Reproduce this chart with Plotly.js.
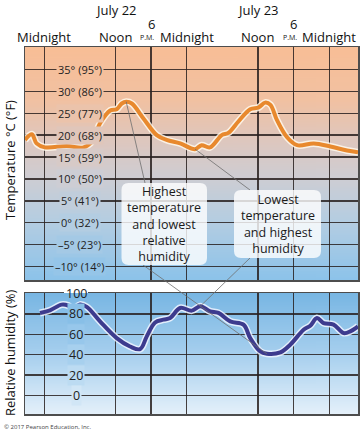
<!DOCTYPE html>
<html><head><meta charset="utf-8">
<script src="https://cdn.plot.ly/plotly-3.0.1.min.js"></script>
<style>html,body{margin:0;padding:0;background:#fff}</style>
</head><body><div id="chart" style="width:363px;height:432px"></div>
<script>
// ---- data (hours from midnight July 22) ----
const tempHours = [-3.25, -2.1, -1.3, 0.1, 3.8, 6.6, 8.0, 9.4, 11.1, 12.2, 13.05, 13.8, 14.75, 16.7, 18.95, 20.6, 22.9, 25.4, 26.5, 27.9, 29.9, 31.0, 32.7, 34.7, 36.1, 37.2, 38.1, 39.2, 40.9, 42.6, 45.4, 48.2, 51.0, 52.85];
const tempC = [18.9, 20.2, 18.1, 17.2, 17.5, 17.2, 18.5, 22.7, 25.6, 25.9, 27.2, 27.6, 27.2, 23.8, 20.0, 18.9, 18.1, 16.8, 17.7, 17.2, 20.0, 20.5, 23.1, 25.9, 26.3, 27.4, 26.9, 23.4, 19.5, 17.7, 18.1, 17.4, 16.5, 16.1];
const humHours = [-0.73, 0.96, 2.93, 4.05, 4.89, 6.02, 7.15, 9.39, 12.2, 14.45, 16.14, 17.27, 18.67, 20.07, 21.2, 22.88, 24.86, 26.26, 27.94, 29.34, 31.32, 33.56, 34.69, 36.38, 37.5, 39.75, 41.43, 43.68, 44.81, 45.94, 47.05, 48.74, 50.42, 51.55, 52.85];
const humidity = [81, 83.6, 89.2, 88.2, 84.9, 89.2, 86.9, 72.7, 56.3, 48.1, 45.5, 58, 71.7, 74.4, 76, 85.9, 83.3, 87.5, 82.6, 81, 72.7, 69.5, 56.3, 43.2, 40.9, 42.2, 49.8, 64.5, 68.5, 76, 71.1, 69.5, 61.3, 62.9, 67.8];

const tempTickVals = [35, 30, 25, 20, 15, 10, 5, 0, -5, -10];
const tempTickText = ['35° (95°)', '30° (86°)', '25° (77°)', '20° (68°)', '15° (59°)', '10° (50°)', '5° (41°)', '0° (32°)', '–5° (23°)', '–10° (14°)'];
const humTickVals = [100, 80, 60, 40, 20, 0];
const humTickText = ['100', '80', '60', '40', '20', '0'];
const hourGrid = [0, 12, 18, 24, 36, 42, 48];
const headerHours = [0, 12, 24, 36, 48];
const headerLabels = ['Midnight', 'Noon', 'Midnight', 'Noon', 'Midnight'];
const pmHours = [18, 42];
const dateHours = [12, 36];
const dateLabels = ['July 22', 'July 23'];
const callout1 = 'Highest<br>temperature<br>and lowest<br>relative<br>humidity';
const callout2 = 'Lowest<br>temperature<br>and highest<br>humidity';

// ---- layout geometry ----
const W = 363, H = 432, ML = 25, MR = 5, MT = 47, MB = 18;
const PW = W - ML - MR, PH = H - MT - MB;
const xr = [-3.25, 52.85];
const topDom = [0.3651, 1], botDom = [0, 0.3297];
const tRange = [-13.03, 40.08], hRange = [-18.2, 100.6];
const FONT = '"Open Sans", "Noto Sans", sans-serif';

const pxX = h => ML + (h - xr[0]) / (xr[1] - xr[0]) * PW;
const paperX = px => (px - ML) / PW;
const paperY = py => (H - MB - py) / PH;
const pyTop = v => MT + (tRange[1] - v) / (tRange[1] - tRange[0]) * PH * (topDom[1] - topDom[0]);
const pyBot = v => MT + PH * (1 - botDom[1]) + (hRange[1] - v) / (hRange[1] - hRange[0]) * PH * (botDom[1] - botDom[0]);

const topStops = [[0, [248, 190, 150]], [0.23, [241, 193, 162]], [0.40, [222, 199, 190]], [0.56, [206, 205, 211]], [0.75, [180, 205, 226]], [1, [140, 195, 234]]];
const botStops = [[0, [120, 182, 227]], [0.5, [166, 207, 238]], [1, [228, 240, 250]]];
function mix(stops, t) {
  t = Math.max(0, Math.min(1, t));
  for (let i = 0; i < stops.length - 1; i++) {
    const [t0, c0] = stops[i], [t1, c1] = stops[i + 1];
    if (t <= t1) {
      const f = (t - t0) / (t1 - t0);
      return 'rgb(' + c0.map((c, k) => Math.round(c + (c1[k] - c) * f)).join(',') + ')';
    }
  }
  return 'rgb(' + stops[stops.length - 1][1].join(',') + ')';
}
function gradURL(stops) {
  const cv = document.createElement('canvas');
  cv.width = 4; cv.height = 256;
  const ctx = cv.getContext('2d');
  const g = ctx.createLinearGradient(0, 0, 0, 256);
  stops.forEach(([t, c]) => g.addColorStop(t, 'rgb(' + c.join(',') + ')'));
  ctx.fillStyle = g; ctx.fillRect(0, 0, 4, 256);
  return cv.toDataURL('image/png');
}
const topH = PH * (topDom[1] - topDom[0]);
const botH = PH * (botDom[1] - botDom[0]);

const gridColor = 'rgba(40,32,30,0.85)';
const lineColor = '#4d4d4d';
const axisBase = {showticklabels: false, ticks: '', showgrid: true, gridcolor: gridColor, gridwidth: 1.3,
  zeroline: false, showline: true, mirror: true, linecolor: lineColor, linewidth: 1.5, fixedrange: true};

const traces = [
  {x: tempHours, y: tempC, xaxis: 'x', yaxis: 'y', mode: 'lines', line: {color: 'rgba(255,248,235,0.85)', width: 7, shape: 'spline', smoothing: 1}, hoverinfo: 'skip'},
  {x: tempHours, y: tempC, xaxis: 'x', yaxis: 'y', mode: 'lines', line: {color: '#e8892e', width: 4, shape: 'spline', smoothing: 1}, hoverinfo: 'skip'},
  {x: humHours, y: humidity, xaxis: 'x2', yaxis: 'y2', mode: 'lines', line: {color: 'rgba(240,245,255,0.85)', width: 7, shape: 'spline', smoothing: 1}, hoverinfo: 'skip'},
  {x: humHours, y: humidity, xaxis: 'x2', yaxis: 'y2', mode: 'lines', line: {color: '#3d3b8e', width: 4, shape: 'spline', smoothing: 1}, hoverinfo: 'skip'}
];

const C = {xanchor: 'center', yanchor: 'middle', showarrow: false};
const annotations = [];
tempTickVals.forEach((v, i) => {
  annotations.push(Object.assign({xref: 'paper', yref: 'y', x: paperX(79.5), y: v, text: tempTickText[i],
    font: {family: FONT, size: 11, color: '#222'}, bgcolor: mix(topStops, (pyTop(v) - MT) / topH), borderpad: 1}, C));
});
humTickVals.forEach((v, i) => {
  annotations.push(Object.assign({xref: 'paper', yref: 'y2', x: paperX(76), y: v, text: humTickText[i],
    font: {family: FONT, size: 12.5, color: '#222'}, bgcolor: v >= 100 ? 'rgba(0,0,0,0)' : mix(botStops, (pyBot(v) - (H - MB - botH)) / botH), borderpad: 1}, C));
});
headerHours.forEach((h, i) => {
  annotations.push(Object.assign({xref: 'x', yref: 'paper', x: h, y: paperY(37), text: headerLabels[i],
    font: {family: FONT, size: 13, color: '#111'}}, C));
});
pmHours.forEach(h => {
  annotations.push(Object.assign({xref: 'x', yref: 'paper', x: h, y: paperY(24), text: '6',
    font: {family: FONT, size: 13, color: '#111'}}, C));
  annotations.push(Object.assign({xref: 'x', yref: 'paper', x: h, xshift: -4, y: paperY(38), text: 'P.M.',
    font: {family: FONT, size: 7, color: '#111'}}, C));
});
dateHours.forEach((h, i) => {
  annotations.push(Object.assign({xref: 'x', yref: 'paper', x: h, y: paperY(10), text: dateLabels[i],
    font: {family: FONT, size: 13, color: '#111'}}, C));
});
annotations.push(Object.assign({xref: 'paper', yref: 'paper', x: paperX(10), y: paperY(160), text: 'Temperature °C (°F)', textangle: -90,
  font: {family: FONT, size: 13, color: '#111'}}, C));
annotations.push(Object.assign({xref: 'paper', yref: 'paper', x: paperX(10), y: paperY(353), text: 'Relative humidity (%)', textangle: -90,
  font: {family: FONT, size: 13, color: '#111'}}, C));
annotations.push({xref: 'paper', yref: 'paper', x: paperX(2), y: paperY(427), xanchor: 'left', yanchor: 'middle', text: '© 2017 Pearson Education, Inc.',
  showarrow: false, font: {family: FONT, size: 6, color: '#444'}});

// callout boxes
const box1 = [121.5, 183, 207, 265], box2 = [234, 190, 321, 258];
function roundRect(b, r) {
  const x0 = paperX(b[0]), x1 = paperX(b[2]), y0 = paperY(b[3]), y1 = paperY(b[1]);
  const rx = r / PW, ry = r / PH;
  return `M${x0 + rx},${y0} L${x1 - rx},${y0} Q${x1},${y0} ${x1},${y0 + ry} L${x1},${y1 - ry} Q${x1},${y1} ${x1 - rx},${y1} L${x0 + rx},${y1} Q${x0},${y1} ${x0},${y1 - ry} L${x0},${y0 + ry} Q${x0},${y0} ${x0 + rx},${y0} Z`;
}
[[box1, callout1], [box2, callout2]].forEach(([b, t]) => {
  annotations.push(Object.assign({xref: 'paper', yref: 'paper', x: paperX((b[0] + b[2]) / 2), y: paperY((b[1] + b[3]) / 2), text: t,
    font: {family: FONT, size: 12.5, color: '#1a1a1a'}, align: 'center'}, C));
});

// connector endpoints derived from data
const iTmax = tempC.indexOf(Math.max(...tempC));
const iHmin = humidity.indexOf(Math.min(...humidity));
let iTlow = -1, iHhigh = -1;
tempHours.forEach((h, i) => { if (h > 20 && h < 30 && (iTlow < 0 || tempC[i] < tempC[iTlow])) iTlow = i; });
humHours.forEach((h, i) => { if (h > 20 && h < 30 && (iHhigh < 0 || humidity[i] > humidity[iHhigh])) iHhigh = i; });
const lineStyle = {color: '#6e6e6e', width: 0.8};
const seg = (xa, ya, xb, yb) => ({type: 'line', xref: 'paper', yref: 'paper', x0: paperX(xa), y0: paperY(ya), x1: paperX(xb), y1: paperY(yb), line: lineStyle, layer: 'above'});
const rectPx = (x0, y0, x1, y1, fill) => ({type: 'rect', xref: 'paper', yref: 'paper', x0: paperX(x0), x1: paperX(x1), y0: paperY(y1), y1: paperY(y0), fillcolor: fill, line: {width: 0}, layer: 'above'});
const topEdgeBot = H - MB - botH;
const shapes = [
  seg(pxX(tempHours[iTmax]), pyTop(tempC[iTmax]), 145, box1[1]),
  seg(143, box1[3], pxX(humHours[iHmin]), pyBot(humidity[iHmin])),
  seg(pxX(tempHours[iTlow]), pyTop(tempC[iTlow]), 250, box2[1]),
  seg(250, box2[3], pxX(humHours[iHhigh]), pyBot(humidity[iHhigh])),
  // gap in the top border of the humidity panel behind its "100" label
  rectPx(64, topEdgeBot - 2, 88, topEdgeBot, '#ffffff'),
  rectPx(64, topEdgeBot, 88, topEdgeBot + 2, mix(botStops, 0)),
  {type: 'path', xref: 'paper', yref: 'paper', path: roundRect(box1, 7), fillcolor: 'rgba(255,255,255,0.8)', line: {width: 0}, layer: 'above'},
  {type: 'path', xref: 'paper', yref: 'paper', path: roundRect(box2, 7), fillcolor: 'rgba(255,255,255,0.8)', line: {width: 0}, layer: 'above'}
];

const layout = {
  width: W, height: H, margin: {l: ML, r: MR, t: MT, b: MB, pad: 0},
  paper_bgcolor: '#fff', plot_bgcolor: 'rgba(0,0,0,0)', showlegend: false,
  xaxis: Object.assign({}, axisBase, {domain: [0, 1], range: xr, anchor: 'y', tickvals: hourGrid}),
  yaxis: Object.assign({}, axisBase, {domain: topDom, range: tRange, anchor: 'x', tickvals: tempTickVals}),
  xaxis2: Object.assign({}, axisBase, {domain: [0, 1], range: xr, anchor: 'y2', tickvals: hourGrid}),
  yaxis2: Object.assign({}, axisBase, {domain: botDom, range: hRange, anchor: 'x2', tickvals: humTickVals}),
  images: [
    {source: gradURL(topStops), xref: 'paper', yref: 'paper', x: 0, y: topDom[1], sizex: 1, sizey: topDom[1] - topDom[0], sizing: 'stretch', xanchor: 'left', yanchor: 'top', layer: 'below'},
    {source: gradURL(botStops), xref: 'paper', yref: 'paper', x: 0, y: botDom[1], sizex: 1, sizey: botDom[1] - botDom[0], sizing: 'stretch', xanchor: 'left', yanchor: 'top', layer: 'below'}
  ],
  annotations: annotations,
  shapes: shapes
};
Plotly.newPlot('chart', traces, layout, {staticPlot: true, displayModeBar: false});
</script>
</body></html>
